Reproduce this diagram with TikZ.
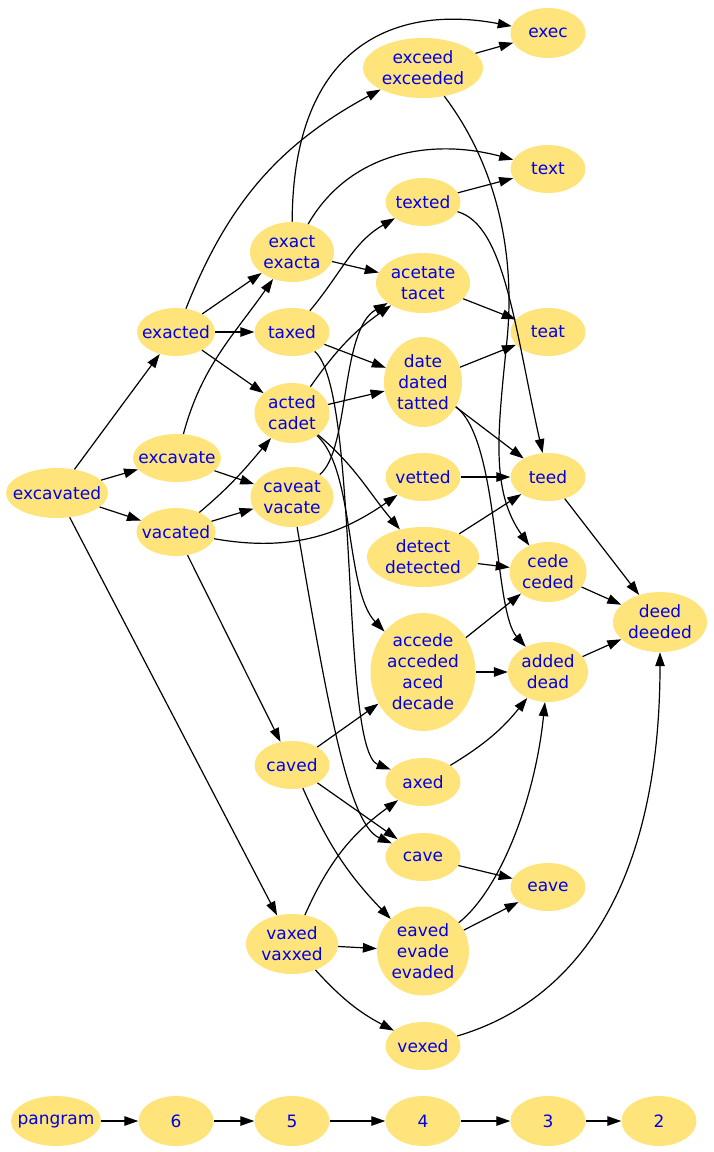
\documentclass[tikz,border=0pt]{standalone}
\usepackage{fontspec}
\newfontfamily\wordfont{DejaVu Sans}
\usetikzlibrary{shapes.geometric,arrows.meta,positioning}
\definecolor{wordfill}{RGB}{255,228,124}
\definecolor{wordtext}{RGB}{0,0,230}

\begin{document}
\begin{tikzpicture}[x=1pt,y=1pt,
	word/.style={ellipse,fill=wordfill,text=wordtext,align=center,inner xsep=-50pt,inner ysep=-50pt,
		minimum width=75pt,minimum height=48pt,font=\wordfont\fontsize{17}{21}\selectfont},
	link/.style={-{Triangle[length=14pt,width=9.5pt]},line width=1.2pt}]
				
				\useasboundingbox (0,0) rectangle (713,-1152);
				
				\node[word,minimum width=102pt,minimum height=50pt] (excavated) at (57,-493) {excavated};
				
				\node[word,minimum width=78pt] (exacted) at (176,-332) {exacted};
				\node[word,minimum width=88pt] (excavate) at (177,-458) {excavate};
				\node[word,minimum width=79pt] (vacated) at (176,-532) {vacated};
				
				\node[word,minimum width=84pt,minimum height=60pt] (exact) at (292,-252) {exact\\exacta};
				\node[word] (taxed) at (292,-332) {taxed};
				\node[word,minimum height=60pt] (acted) at (292,-413) {acted\\cadet};
				\node[word,minimum width=83pt,minimum height=60pt] (caveat) at (292,-497) {caveat\\vacate};
				\node[word] (caved) at (292,-765) {caved};
				\node[word,minimum width=92pt,minimum height=60pt] (vaxed) at (292,-944) {vaxed\\vaxxed};
				
				\node[word,minimum width=120pt,minimum height=60pt] (exceed) at (423,-68) {exceed\\exceeded};
				\node[word] (texted) at (423,-202) {texted};
				\node[word,minimum width=94pt,minimum height=60pt] (acetate) at (423,-283) {acetate\\tacet};
				\node[word,minimum width=78pt,minimum height=90pt] (date) at (423,-382) {date\\dated\\tatted};
				\node[word] (vetted) at (423,-477) {vetted};
				\node[word,minimum width=112pt,minimum height=60pt] (detect) at (423,-557) {detect\\detected};
				\node[word,minimum width=105pt,minimum height=118pt] (accede) at (423,-672) {accede\\acceded\\aced\\decade};
				\node[word] (axed) at (423,-782) {axed};
				\node[word] (cave) at (423,-857) {cave};
				\node[word,minimum width=92pt,minimum height=89pt] (eaved) at (423,-951) {eaved\\evade\\evaded};
				\node[word] (vexed) at (423,-1046) {vexed};
				
				\node[word,minimum height=50pt] (exec) at (548,-33) {exec};
				\node[word] (text) at (548,-169) {text};
				\node[word] (teat) at (548,-332) {teat};
				\node[word] (teed) at (548,-477) {teed};
				\node[word,minimum width=77pt,minimum height=60pt] (cede) at (548,-572) {cede\\ceded};
				\node[word,minimum width=80pt,minimum height=60pt] (added) at (548,-672) {added\\dead};
				\node[word] (eave) at (548,-887) {eave};
				
				\node[word,minimum width=94pt,minimum height=60pt] (deed) at (660,-622) {deed\\deeded};
				
				\node[word,minimum width=90pt,minimum height=50pt] (pangram) at (56,-1121) {pangram};
				\node[word,minimum height=50pt] (r6) at (176,-1121) {6};
				\node[word,minimum height=50pt] (r5) at (292,-1121) {5};
				\node[word,minimum height=50pt] (r4) at (423,-1121) {4};
				\node[word,minimum height=50pt] (r3) at (548,-1121) {3};
				\node[word,minimum height=50pt] (r2) at (659,-1121) {2};
				
				\draw[link] (excavated) -- (exacted);
				\draw[link] (excavated) -- (excavate);
				\draw[link] (excavated) -- (vacated);
				\draw[link] (excavated) -- (vaxed);
				
				\draw[link] (exacted) to[bend left=20] (exceed);
				\draw[link] (exacted) -- (exact);
				\draw[link] (exacted) -- (taxed);
				\draw[link] (exacted) -- (acted);
				\draw[link] (excavate) to[out=75,in=235] (exact);
				\draw[link] (excavate) -- (caveat);
				\draw[link] (vacated) to[out=40,in=230] (acted);
				\draw[link] (vacated) -- (caveat);
				\draw[link] (vacated) to[out=-10,in=215] (vetted);
				\draw[link] (vacated) -- (caved);
				
				\draw[link] (exact) .. controls (293,-40) and (400,-5) .. (exec);
				\draw[link] (exact) to[out=60,in=165] (text);
				\draw[link] (exact) -- (acetate);
				\draw[link] (taxed) to[out=50,in=210] (texted);
				\draw[link] (taxed) -- (date);
				\draw[link] (taxed) .. controls (360,-390) and (340,-750) .. (axed);
				\draw[link] (acted) to[out=55,in=215] (acetate);
				\draw[link] (acted) -- (date);
				\draw[link] (acted) to[out=-40,in=130] (detect);
				\draw[link] (acted) .. controls (355,-470) and (345,-590) .. (accede);
				\draw[link] (caveat) .. controls (350,-450) and (340,-330) .. (acetate);
				\draw[link] (caveat) .. controls (330,-720) and (350,-825) .. (cave);
				\draw[link] (caved) -- (accede);
				\draw[link] (caved) -- (cave);
				\draw[link] (caved) to[bend right=10] (eaved);
				\draw[link] (vaxed) to[bend left=15] (axed);
				\draw[link] (vaxed) -- (eaved);
				\draw[link] (vaxed) to[bend right=10] (vexed);
				
				\draw[link] (exceed) -- (exec);
				\draw[link] (exceed) .. controls (500,-170) and (515,-260) .. (507,-340) .. controls (498,-430) and (490,-490) .. (cede);
				\draw[link] (texted) -- (text);
				\draw[link] (texted) .. controls (505,-225) and (515,-330) .. (teed);
				\draw[link] (acetate) -- (teat);
				\draw[link] (date) -- (teat);
				\draw[link] (date) -- (teed);
				\draw[link] (date) .. controls (500,-440) and (493,-610) .. (added);
				\draw[link] (vetted) -- (teed);
				\draw[link] (detect) -- (teed);
				\draw[link] (detect) -- (cede);
				\draw[link] (accede) -- (cede);
				\draw[link] (accede) -- (added);
				\draw[link] (axed) to[bend right=10] (added);
				\draw[link] (cave) -- (eave);
				\draw[link] (eaved) -- (eave);
				\draw[link] (eaved) .. controls (500,-890) and (535,-800) .. (added);
				\draw[link] (vexed) .. controls (580,-1000) and (660,-880) .. (deed);
				
				\draw[link] (teed) -- (deed);
				\draw[link] (cede) -- (deed);
				\draw[link] (added) -- (deed);
				
				\draw[link] (pangram) -- (r6);
				\draw[link] (r6) -- (r5);
				\draw[link] (r5) -- (r4);
				\draw[link] (r4) -- (r3);
				\draw[link] (r3) -- (r2);
			\end{tikzpicture}
\end{document}
